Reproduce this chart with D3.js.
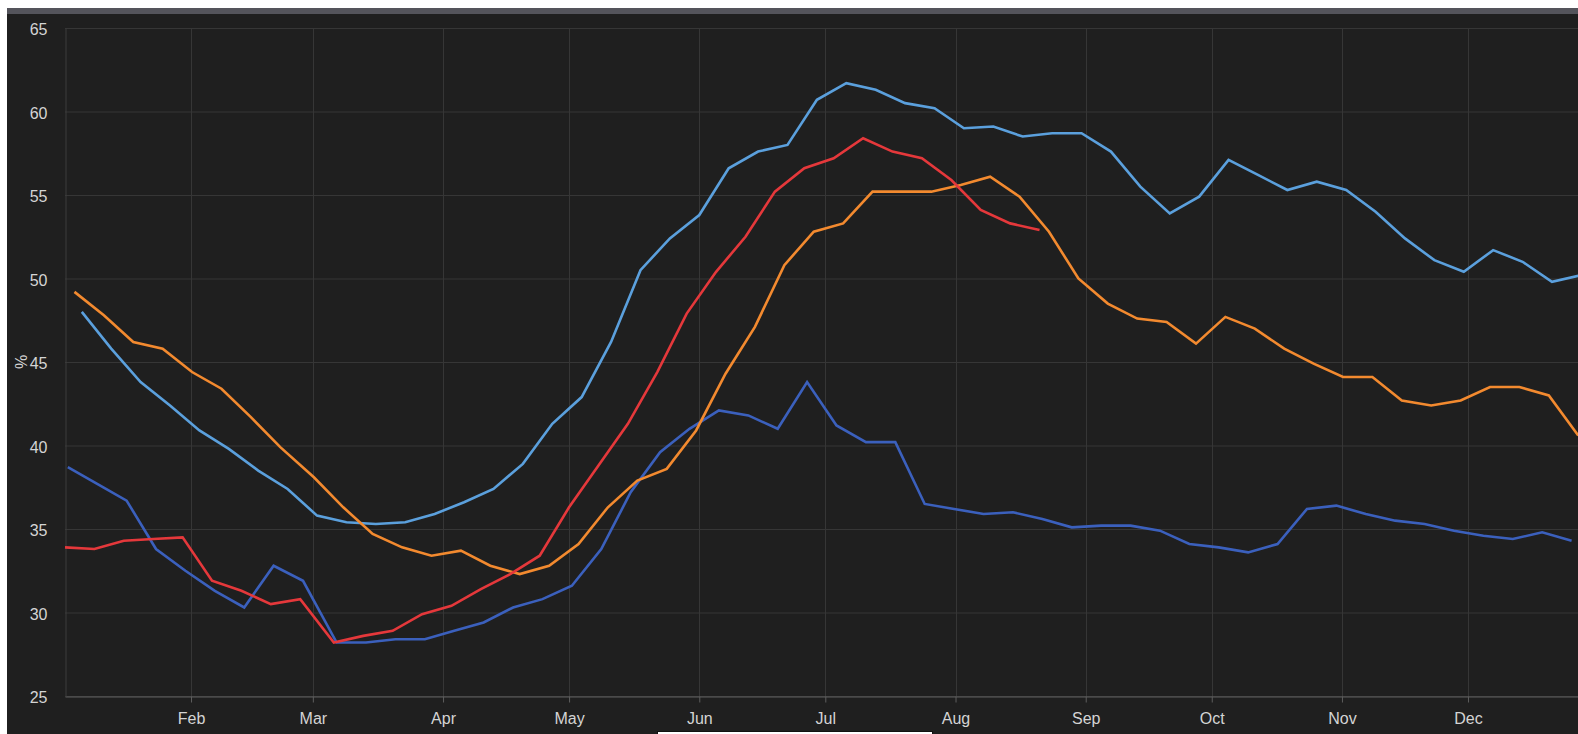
<!DOCTYPE html>
<html>
<head>
<meta charset="utf-8">
<script src="https://cdn.jsdelivr.net/npm/d3@7"></script>
<style>
  html, body { margin: 0; padding: 0; background: #fff; overflow: hidden; }
  #panel {
    position: absolute; left: 7px; top: 8px; width: 1571px; height: 726px;
    background: #1f1f1f; border-top: 6px solid #54545b; box-sizing: border-box;
  }
  #chart { position: absolute; left: 0; top: 0; }
  #tip {
    position: absolute; left: 657px; top: 731px; width: 274px; height: 10px;
    background: #fff; border: 1px solid #111;
  }
  text { font-family: "Liberation Sans", Arial, sans-serif; }
</style>
</head>
<body>
<div id="panel"></div>
<div id="chart"></div>
<div id="tip"></div>
<script>
// weekly values per season; each season's dates are laid onto one calendar year
const axisYear = 2024;
const yTicks = [25, 30, 35, 40, 45, 50, 55, 60, 65];
const monthTicks = ["2024-02-01", "2024-03-01", "2024-04-01", "2024-05-01", "2024-06-01",
  "2024-07-01", "2024-08-01", "2024-09-01", "2024-10-01", "2024-11-01", "2024-12-01"];

const lightBlueStart = "2024-01-06T00:00";
const lightBlue = [48.0, 45.8, 43.8, 42.4, 40.9, 39.8, 38.5, 37.4, 35.8, 35.4,
  35.3, 35.4, 35.9, 36.6, 37.4, 38.9, 41.3, 42.9, 46.2, 50.5,
  52.4, 53.8, 56.6, 57.6, 58.0, 60.7, 61.7, 61.3, 60.5, 60.2,
  59.0, 59.1, 58.5, 58.7, 58.7, 57.6, 55.5, 53.9, 54.9, 57.1,
  56.2, 55.3, 55.8, 55.3, 54.0, 52.4, 51.1, 50.4, 51.7, 51.0,
  49.8, 50.2];

const darkBlueStart = "2022-01-02T16:00";
const darkBlue = [38.7, 37.7, 36.7, 33.8, 32.5, 31.3, 30.3, 32.8, 31.9, 28.2,
  28.2, 28.4, 28.4, 28.9, 29.4, 30.3, 30.8, 31.6, 33.8, 37.2,
  39.6, 41.0, 42.1, 41.8, 41.0, 43.8, 41.2, 40.2, 40.2, 36.5,
  36.2, 35.9, 36.0, 35.6, 35.1, 35.2, 35.2, 34.9, 34.1, 33.9,
  33.6, 34.1, 36.2, 36.4, 35.9, 35.5, 35.3, 34.9, 34.6, 34.4,
  34.8, 34.3];

const orangeStart = "2023-01-04T06:00";
const orange = [49.2, 47.8, 46.2, 45.8, 44.4, 43.4, 41.7, 39.9, 38.1, 36.3,
  34.7, 33.9, 33.4, 33.7, 32.8, 32.3, 32.8, 34.1, 36.3, 37.9,
  38.6, 40.9, 44.3, 47.1, 50.8, 52.8, 53.3, 55.2, 55.2, 55.2,
  55.6, 56.1, 54.9, 52.8, 50.0, 48.5, 47.6, 47.4, 46.1, 47.7,
  47.0, 45.8, 44.9, 44.1, 44.1, 42.7, 42.4, 42.7, 43.5, 43.5,
  43.0, 40.6];

const redStart = "2025-01-02T00:00";
const red = [33.9, 33.8, 34.3, 34.4, 34.5, 31.9, 31.3, 30.5, 30.8, 28.2,
  28.6, 28.9, 29.9, 30.4, 31.4, 32.3, 33.4, 36.3, 38.8, 41.3,
  44.4, 47.9, 50.4, 52.5, 55.2, 56.6, 57.2, 58.4, 57.6, 57.2,
  55.9, 54.1, 53.3, 52.9];

const series = [
  { start: darkBlueStart, values: darkBlue, color: "#3b60bd" },
  { start: lightBlueStart, values: lightBlue, color: "#5ba0dd" },
  { start: orangeStart, values: orange, color: "#f38a2f" },
  { start: redStart, values: red, color: "#e5383b" }
];

const width = 1578;
const height = 734;
const plotLeft = 65, plotTop = 28, plotBottom = 696, plotRight = 1594;

const x = d3.scaleTime()
  .domain([new Date("2024-01-02T00:00"), new Date("2024-12-31T00:00")])
  .range([plotLeft, plotRight]);
const y = d3.scaleLinear().domain([25, 65]).range([plotBottom, plotTop]);

const svg = d3.select("#chart").append("svg")
  .attr("width", width)
  .attr("height", height);

// grid
svg.append("g")
  .selectAll("line")
  .data(yTicks)
  .join("line")
  .attr("x1", plotLeft).attr("x2", plotRight)
  .attr("y1", d => y(d) + 0.5).attr("y2", d => y(d) + 0.5)
  .attr("stroke", "#363636");

const months = monthTicks.map(d => new Date(d + "T00:00"));
svg.append("g")
  .selectAll("line")
  .data(months)
  .join("line")
  .attr("x1", d => Math.round(x(d)) + 0.5).attr("x2", d => Math.round(x(d)) + 0.5)
  .attr("y1", plotTop).attr("y2", plotBottom)
  .attr("stroke", "#363636");

// axes
const xAxis = svg.append("g")
  .attr("transform", `translate(0,${plotBottom + 0.5})`)
  .call(d3.axisBottom(x).tickValues(months).tickFormat(d3.timeFormat("%b"))
    .tickSize(6).tickPadding(10).tickSizeOuter(0));
xAxis.select(".domain").attr("stroke", "#5e5e5e");
xAxis.selectAll(".tick line").attr("stroke", "#5e5e5e");
xAxis.selectAll("text").attr("fill", "#d4d4d4").attr("font-size", 16);

const yAxis = svg.append("g")
  .attr("transform", `translate(${plotLeft + 0.5},0)`)
  .call(d3.axisLeft(y).tickValues(yTicks).tickSize(0).tickPadding(18).tickSizeOuter(0));
yAxis.select(".domain").attr("stroke", "#3c3c3c");
yAxis.selectAll("text").attr("fill", "#d4d4d4").attr("font-size", 16).attr("dy", "0.42em");

svg.append("text")
  .attr("transform", `translate(21,${(plotTop + plotBottom) / 2}) rotate(-90)`)
  .attr("text-anchor", "middle")
  .attr("dy", "0.35em")
  .attr("fill", "#d4d4d4")
  .attr("font-size", 16)
  .text("%");

// lines
const line = d3.line()
  .x(d => x(d.date))
  .y(d => y(d.value));

// put a season's date on the same month and day of the axis year
const onAxisYear = d => new Date(axisYear, d.getMonth(), d.getDate(), d.getHours());

series.forEach(s => {
  const start = new Date(s.start);
  const pts = s.values.map((v, i) => ({ date: onAxisYear(d3.timeDay.offset(start, i * 7)), value: v }));
  svg.append("path")
    .datum(pts)
    .attr("fill", "none")
    .attr("stroke", s.color)
    .attr("stroke-width", 2.6)
    .attr("d", line);
});
</script>
</body>
</html>
